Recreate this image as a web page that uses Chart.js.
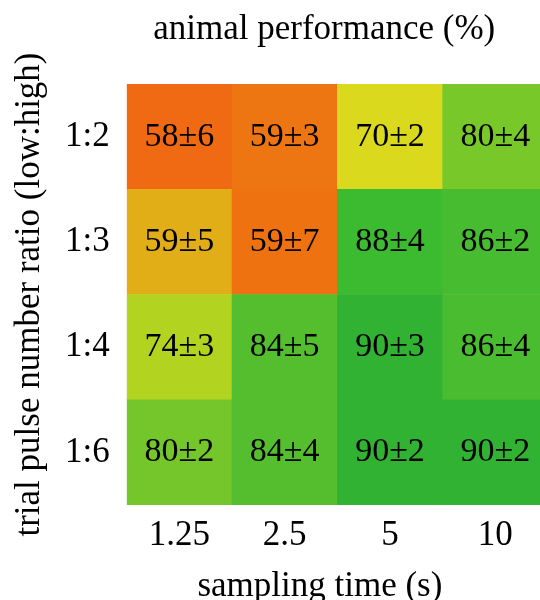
<!DOCTYPE html>
<html>
<head>
<meta charset="utf-8">
<script src="https://cdn.jsdelivr.net/npm/chart.js@4"></script>
<style>
  html, body { margin: 0; padding: 0; background: #fff; overflow: hidden; }
  #wrap { width: 548px; height: 610px; }
</style>
</head>
<body>
<div id="wrap"><canvas id="heat"></canvas></div>
<script>
// sampling time (s) -> columns, pulse ratio -> rows (top to bottom)
const times = ['1.25', '2.5', '5', '10'];
const ratios = ['1:2', '1:3', '1:4', '1:6'];

// animal performance (%) mean and sd, one row per ratio
const perfMean = [
    [58, 59, 70, 80],
    [59, 59, 88, 86],
    [74, 84, 90, 86],
    [80, 84, 90, 90]
];
const perfSd = [
    [6, 3, 2, 4],
    [5, 7, 4, 2],
    [3, 5, 3, 4],
    [2, 4, 2, 2]
];

const cellColors = [
    ['#ef6a12', '#ee7612', '#dbd91e', '#78c82a'],
    ['#e2ae18', '#ee7210', '#3cba30', '#48bc30'],
    ['#b2d420', '#54be2e', '#32b232', '#4abc30'],
    ['#74c62a', '#54be2e', '#32b232', '#32b232']
];

const serif = 'Liberation Serif';
Chart.defaults.font.family = serif;
Chart.defaults.color = '#000';

// each row is one stacked slice of height 1; first dataset sits at the bottom
const datasets = ratios.map((r, i) => i).reverse().map(row => ({
    label: ratios[row],
    data: times.map(() => 1),
    backgroundColor: cellColors[row],
    borderWidth: 0,
    barPercentage: 1,
    categoryPercentage: 1,
    rowIndex: row
}));

// write mean±sd in the middle of every cell
const cellText = {
    id: 'cellText',
    afterDatasetsDraw(chart) {
        const ctx = chart.ctx;
        ctx.save();
        ctx.font = '34px "' + serif + '"';
        ctx.fillStyle = '#000';
        ctx.textAlign = 'center';
        ctx.textBaseline = 'middle';
        chart.data.datasets.forEach((ds, d) => {
            const meta = chart.getDatasetMeta(d);
            meta.data.forEach((bar, col) => {
                const r = ds.rowIndex;
                const yMid = (bar.y + bar.base) / 2;
                ctx.fillText(perfMean[r][col] + '±' + perfSd[r][col], bar.x, yMid);
            });
        });
        ctx.restore();
    }
};

const nb = '\u00a0';

new Chart(document.getElementById('heat'), {
    type: 'bar',
    data: { labels: times, datasets: datasets },
    options: {
        responsive: true,
        maintainAspectRatio: false,
        animation: false,
        layout: { padding: 0 },
        plugins: {
            legend: { display: false },
            tooltip: { enabled: false }
        },
        scales: {
            x: {
                stacked: true,
                grid: { display: false, drawTicks: false },
                border: { display: false },
                ticks: { font: { size: 35, lineHeight: 1 }, padding: 13, maxRotation: 0 },
                title: {
                    display: true,
                    text: 'sampling time (s)' + nb + nb + nb + nb,
                    font: { size: 35, lineHeight: 1 },
                    padding: { top: 3, bottom: 6 }
                }
            },
            xTop: {
                type: 'category',
                position: 'top',
                labels: times,
                grid: { display: false, drawTicks: false },
                border: { display: false },
                ticks: { display: false },
                title: {
                    display: true,
                    text: 'animal performance (%)' + nb + nb + nb,
                    font: { size: 35, lineHeight: 1 },
                    padding: { top: 12, bottom: 37 }
                }
            },
            y: {
                stacked: true,
                min: 0,
                max: ratios.length,
                grid: { display: false, drawTicks: false },
                border: { display: false },
                afterBuildTicks: axis => {
                    axis.ticks = ratios.map((r, i) => ({ value: ratios.length - 0.5 - i }));
                },
                ticks: {
                    font: { size: 35, lineHeight: 1 },
                    padding: 17,
                    callback: v => ratios[Math.round(ratios.length - 0.5 - v)]
                },
                title: {
                    display: true,
                    text: 'trial pulse number ratio (low:high)',
                    font: { size: 35, lineHeight: 1 },
                    padding: { top: 12, bottom: 1 }
                }
            }
        }
    },
    plugins: [cellText]
});
</script>
</body>
</html>
